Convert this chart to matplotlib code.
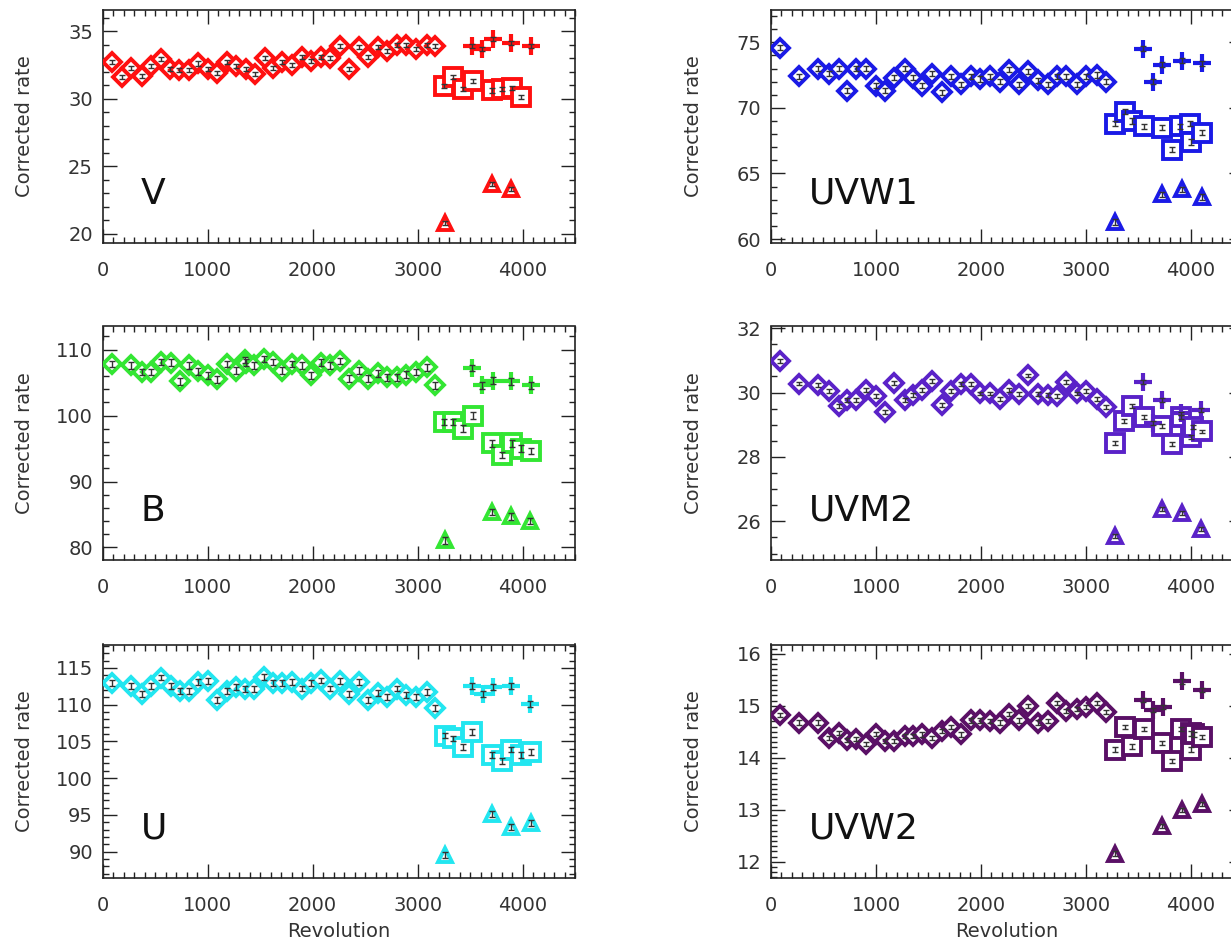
import numpy as np
import matplotlib
matplotlib.use("Agg")
import matplotlib.pyplot as plt
from matplotlib.ticker import MultipleLocator

# ---- V ----
v_dia_x = [87, 188, 271, 376, 459, 556, 639, 730, 820, 910, 1001, 1091, 1181, 1272, 1362, 1452,
           1543, 1626, 1712, 1806, 1897, 1987, 2077, 2168, 2258, 2348, 2439, 2529, 2619, 2710,
           2800, 2890, 2988, 3089, 3168]
v_dia_y = [32.7, 31.6, 32.3, 31.7, 32.4, 32.9, 32.2, 32.1, 32.1, 32.6, 32.2, 31.9, 32.7, 32.4,
           32.2, 31.8, 33.0, 32.3, 32.7, 32.5, 33.1, 32.8, 33.1, 33.0, 33.9, 32.2, 33.8, 33.1,
           33.8, 33.5, 34.0, 34.0, 33.7, 34.0, 33.9]
v_plus_x = [3522, 3613, 3718, 3891, 4079]
v_plus_y = [33.9, 33.7, 34.4, 34.1, 33.9]
v_sq_x = [3251, 3342, 3432, 3530, 3710, 3808, 3902, 3981]
v_sq_y = [30.9, 31.6, 30.7, 31.3, 30.6, 30.7, 30.8, 30.1]
v_tri_x = [3259, 3710, 3891]
v_tri_y = [20.8, 23.7, 23.3]

# ---- B ----
b_dia_x = [87, 271, 376, 459, 556, 646, 737, 820, 910, 1001, 1091, 1181, 1272, 1355, 1362,
           1445, 1535, 1626, 1712, 1806, 1897, 1987, 2077, 2168, 2258, 2348, 2439, 2529, 2619,
           2710, 2800, 2890, 2988, 3089, 3168]
b_dia_y = [107.8, 107.6, 106.6, 106.6, 108.1, 108.0, 105.2, 107.6, 106.7, 106.1, 105.5, 107.8,
           106.8, 108.4, 108.0, 107.6, 108.6, 108.1, 106.8, 107.8, 107.6, 106.1, 108.0, 107.6,
           108.3, 105.6, 106.8, 105.6, 106.4, 105.8, 105.8, 106.2, 106.6, 107.3, 104.6]
b_plus_x = [3522, 3613, 3718, 3891, 4079]
b_plus_y = [107.2, 104.6, 105.3, 105.2, 104.6]
b_sq_x = [3251, 3342, 3432, 3530, 3710, 3808, 3902, 3981, 4079]
b_sq_y = [99.0, 99.0, 98.0, 100.0, 95.8, 94.0, 95.8, 95.0, 94.6]
b_tri_x = [3266, 3710, 3891, 4072]
b_tri_y = [81.1, 85.4, 84.7, 84.0]

# ---- U ----
u_dia_x = [87, 271, 376, 459, 556, 646, 737, 820, 910, 1001, 1091, 1181, 1272, 1355, 1445,
           1535, 1626, 1712, 1806, 1897, 1987, 2077, 2168, 2258, 2348, 2439, 2529, 2619, 2710,
           2800, 2890, 2988, 3089, 3168]
u_dia_y = [112.9, 112.6, 111.4, 112.5, 113.7, 112.5, 111.9, 111.9, 113.1, 113.2, 110.6, 111.9,
           112.4, 112.1, 112.1, 113.8, 112.9, 112.9, 113.1, 112.2, 113.0, 113.3, 112.2, 113.2,
           111.5, 113.1, 110.6, 111.6, 111.1, 112.2, 111.3, 111.1, 111.7, 109.5]
u_plus_x = [3522, 3620, 3718, 3891, 4072]
u_plus_y = [112.6, 111.4, 112.4, 112.5, 110.1]
u_sq_x = [3259, 3342, 3432, 3522, 3710, 3801, 3891, 3981, 4079]
u_sq_y = [105.8, 105.4, 104.2, 106.3, 103.2, 102.3, 103.9, 103.1, 103.6]
u_tri_x = [3259, 3710, 3891, 4079]
u_tri_y = [89.5, 95.1, 93.4, 93.9]

# ---- UVW1 ----
w1_dia_x = [83, 269, 448, 549, 646, 728, 814, 907, 1004, 1087, 1173, 1273, 1352, 1435, 1531,
            1625, 1714, 1811, 1901, 1990, 2087, 2180, 2270, 2367, 2449, 2546, 2636, 2726, 2815,
            2912, 3002, 3110, 3192]
w1_dia_y = [74.6, 72.4, 73.0, 72.6, 73.0, 71.3, 73.0, 73.0, 71.7, 71.3, 72.3, 73.0, 72.3, 71.7,
            72.6, 71.2, 72.4, 71.8, 72.4, 72.2, 72.4, 72.0, 72.9, 71.8, 72.8, 72.1, 71.8, 72.4,
            72.4, 71.8, 72.4, 72.5, 72.0]
w1_plus_x = [3540, 3641, 3730, 3920, 4107]
w1_plus_y = [74.5, 72.0, 73.3, 73.6, 73.4]
w1_sq_x = [3275, 3372, 3443, 3551, 3730, 3820, 3899, 3992, 4006, 4107]
w1_sq_y = [68.8, 69.7, 69.0, 68.6, 68.5, 66.8, 68.6, 68.8, 67.4, 68.1]
w1_tri_x = [3282, 3730, 3917, 4107]
w1_tri_y = [61.3, 63.4, 63.8, 63.2]

# ---- UVM2 ----
m2_dia_x = w1_dia_x
m2_dia_y = [30.98, 30.28, 30.23, 30.04, 29.59, 29.76, 29.76, 30.07, 29.89, 29.4, 30.3, 29.76,
            29.92, 30.07, 30.36, 29.6, 30.05, 30.26, 30.26, 29.97, 29.97, 29.81, 30.09, 29.95,
            30.53, 29.95, 29.92, 29.89, 30.33, 29.97, 30.04, 29.81, 29.56]
m2_plus_x = [3540, 3641, 3730, 3910, 4100]
m2_plus_y = [30.33, 29.05, 29.78, 29.35, 29.45]
m2_sq_x = [3275, 3365, 3443, 3551, 3730, 3820, 3910, 4000, 4017, 4107]
m2_sq_y = [28.43, 29.12, 29.59, 29.25, 28.96, 28.4, 29.23, 28.63, 28.94, 28.79]
m2_tri_x = [3275, 3730, 3917, 4100]
m2_tri_y = [25.55, 26.39, 26.25, 25.77]

# ---- UVW2 ----
w2_dia_x = w1_dia_x
w2_dia_y = [14.83, 14.68, 14.68, 14.39, 14.48, 14.34, 14.37, 14.26, 14.46, 14.32, 14.33, 14.42,
            14.42, 14.45, 14.39, 14.52, 14.6, 14.45, 14.72, 14.72, 14.71, 14.68, 14.85, 14.72,
            15.0, 14.68, 14.71, 15.06, 14.9, 14.94, 14.98, 15.06, 14.89]
w2_plus_x = [3540, 3641, 3737, 3920, 4107]
w2_plus_y = [15.11, 14.92, 14.98, 15.47, 15.3]
w2_sq_x = [3275, 3372, 3443, 3551, 3730, 3820, 3910, 4006, 4006, 4035, 4107]
w2_sq_y = [14.16, 14.6, 14.22, 14.55, 14.29, 13.94, 14.55, 14.47, 14.16, 14.45, 14.4]
w2_tri_x = [3282, 3730, 3917, 4107]
w2_tri_y = [12.16, 12.69, 12.99, 13.11]

panels = [
    ("V", "#ff1010", (19.3, 36.6), 5, 1, 0.15,
     (v_dia_x, v_dia_y), (v_plus_x, v_plus_y), (v_sq_x, v_sq_y), (v_tri_x, v_tri_y)),
    ("UVW1", "#1a1ae6", (59.7, 77.5), 5, 1, 0.2,
     (w1_dia_x, w1_dia_y), (w1_plus_x, w1_plus_y), (w1_sq_x, w1_sq_y), (w1_tri_x, w1_tri_y)),
    ("B", "#33e633", (78.1, 113.5), 10, 2, 0.5,
     (b_dia_x, b_dia_y), (b_plus_x, b_plus_y), (b_sq_x, b_sq_y), (b_tri_x, b_tri_y)),
    ("UVM2", "#5a22c8", (24.8, 32.05), 2, 0.5, 0.06,
     (m2_dia_x, m2_dia_y), (m2_plus_x, m2_plus_y), (m2_sq_x, m2_sq_y), (m2_tri_x, m2_tri_y)),
    ("U", "#22e6f0", (86.4, 118.2), 5, 1, 0.4,
     (u_dia_x, u_dia_y), (u_plus_x, u_plus_y), (u_sq_x, u_sq_y), (u_tri_x, u_tri_y)),
    ("UVW2", "#5a1066", (11.69, 16.18), 1, 0.1, 0.04,
     (w2_dia_x, w2_dia_y), (w2_plus_x, w2_plus_y), (w2_sq_x, w2_sq_y), (w2_tri_x, w2_tri_y)),
]

plt.rcParams['font.family'] = ['DejaVu Sans']

fig = plt.figure(figsize=(12.31, 9.5), dpi=100)

# right column runs past the edge of the picture, as in the original
lefts = [102.7 / 1231, 771 / 1231]
bottoms = [1 - 243 / 950, 1 - 560 / 950, 1 - 878 / 950]
w = 472.3 / 1231
h = 233.5 / 950

for i, (name, col, ylim, maj, mnr, err, dia, plus, sq, tri) in enumerate(panels):
    row, c = i // 2, i % 2
    ax = fig.add_axes([lefts[c], bottoms[row], w, h])

    for (xs, ys), mk, ms in [(dia, 'D', 9), (sq, 's', 12.5), (tri, '^', 10.5)]:
        ax.plot(xs, ys, linestyle='none', marker=mk, ms=ms, mfc='white',
                mec=col, mew=2.8, zorder=3)
        ax.errorbar(xs, ys, yerr=err, fmt='none', ecolor='#333333', elinewidth=1,
                    capsize=2, capthick=1, zorder=4)
    ax.plot(plus[0], plus[1], linestyle='none', marker='+', ms=13, mec=col, mew=3, zorder=3)
    ax.errorbar(plus[0], plus[1], yerr=err, fmt='none', ecolor='#333333', elinewidth=1,
                capsize=2, capthick=1, zorder=4)

    ax.set_xlim(0, 4500)
    ax.set_ylim(*ylim)
    ax.xaxis.set_major_locator(MultipleLocator(1000))
    ax.xaxis.set_minor_locator(MultipleLocator(100))
    ax.yaxis.set_major_locator(MultipleLocator(maj))
    ax.yaxis.set_minor_locator(MultipleLocator(mnr))
    ax.tick_params(which='both', direction='in', top=True, right=True, colors='#222222',
                   labelcolor='#333333', labelsize=14)
    ax.tick_params(which='major', length=10, width=1)
    ax.tick_params(which='minor', length=4, width=1)
    ax.tick_params(axis='x', pad=13)
    ax.tick_params(axis='y', pad=7)
    for s in ax.spines.values():
        s.set_linewidth(1.2)
        s.set_color('#222222')

    ax.set_ylabel("Corrected rate", fontsize=14, color='#333333')
    ax.yaxis.set_label_coords(-0.145, 0.5)
    if row == 2:
        ax.set_xlabel("Revolution", fontsize=14, color='#333333')
        ax.xaxis.set_label_coords(0.5, -0.19)

    ax.text(0.08, 0.21, name, transform=ax.transAxes, fontsize=26, ha='left', va='center',
            color='#111111')

fig.savefig("out.png", dpi=100)
